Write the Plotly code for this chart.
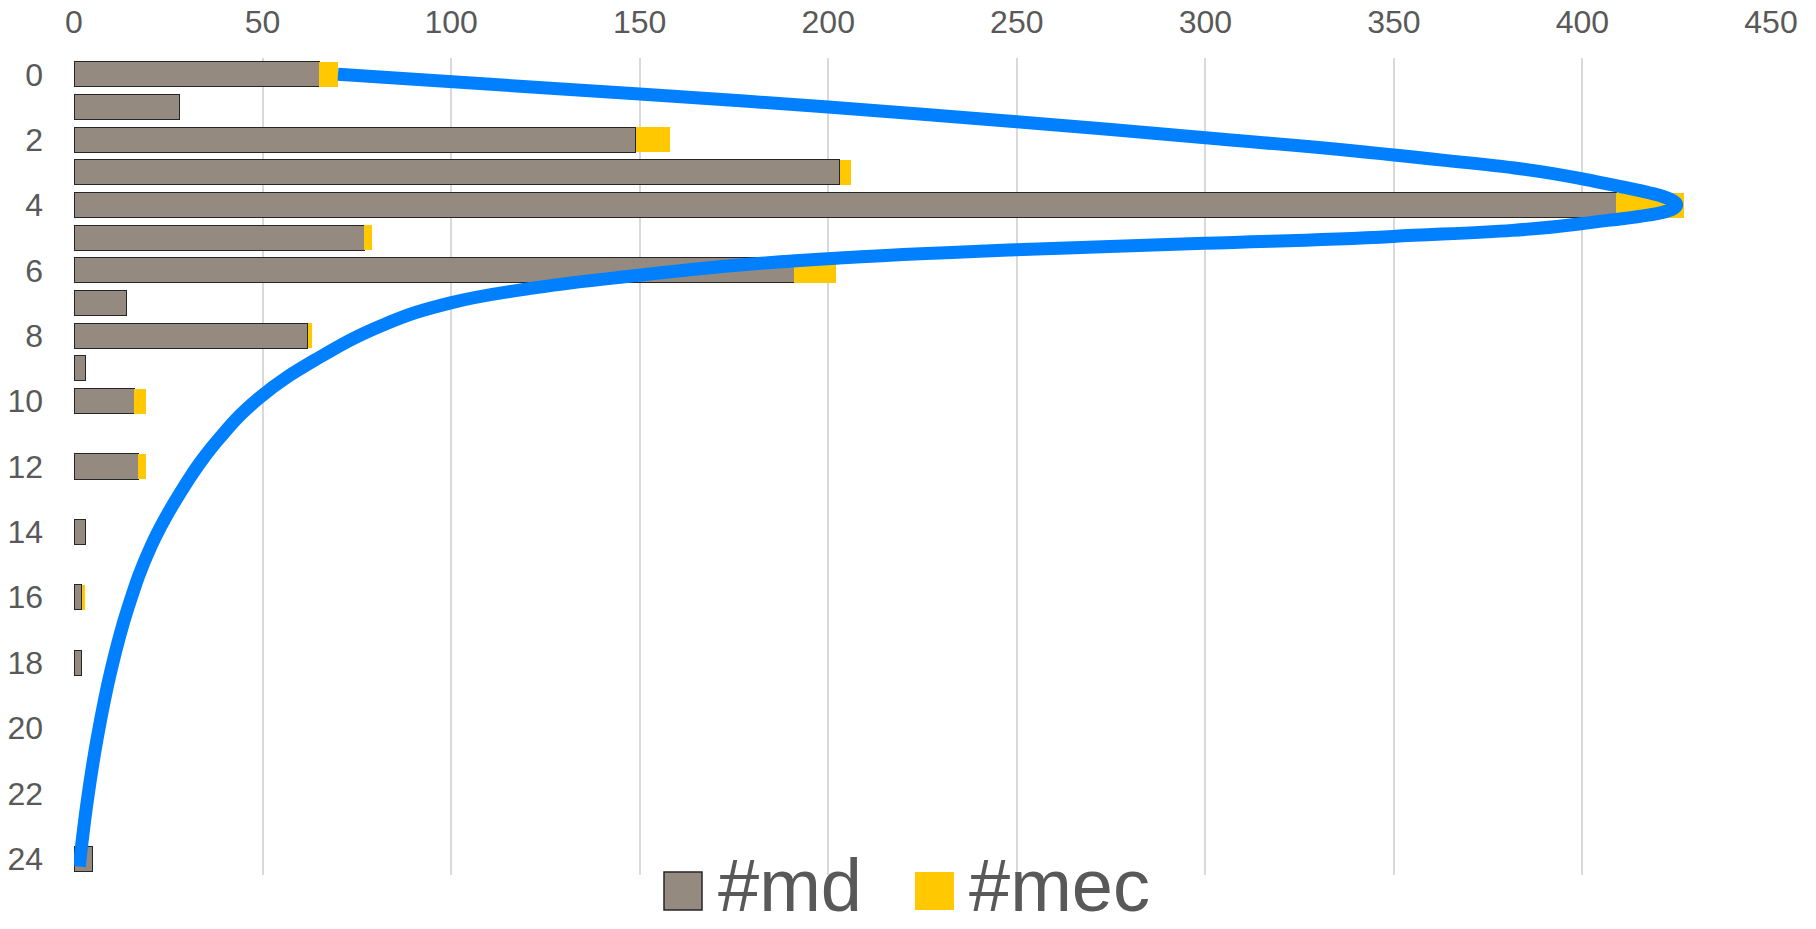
import plotly.graph_objects as go

# ---- data ----
categories = list(range(25))
md = [65, 28, 149, 203, 409, 77, 191, 14, 62, 3, 16, 0, 17, 0, 3, 0, 2, 0, 2, 0, 0, 0, 0, 0, 5]
mec = [5, 0, 9, 3, 18, 2, 11, 0, 1, 0, 3, 0, 2, 0, 0, 0, 1, 0, 0, 0, 0, 0, 0, 0, 0]

curve_x = [70, 150, 200, 250, 300, 350, 400, 425,
           399.6, 349.7, 299.7, 249.6, 199.8, 175, 149.7, 123, 99.6, 82.1, 64.8,
           49, 37.5, 28.3, 20.5, 14.3, 9.8, 6.2, 3.4, 1.4]
curve_y = [0, 0.6, 1.0, 1.45, 1.94, 2.47, 3.2, 4.0,
           4.57, 4.96, 5.17, 5.37, 5.64, 5.85, 6.15, 6.52, 7.0, 7.66, 8.68,
           9.91, 11.28, 12.78, 14.42, 16.33, 18.24, 20.28, 22.33, 24.24]

x_ticks = [0, 50, 100, 150, 200, 250, 300, 350, 400, 450]
y_ticks = list(range(0, 25, 2))

MD_COLOR = "#948A80"
MEC_COLOR = "#FFC800"
LINE_COLOR = "#0080FF"
TEXT_COLOR = "#595959"
FONT = "Liberation Sans, Arial, sans-serif"

fig = go.Figure()
fig.add_trace(go.Bar(
    y=categories, x=md, orientation="h", name="#md", width=0.766,
    marker=dict(color=MD_COLOR,
                line=dict(color="#262626", width=[1 if v > 0 else 0 for v in md])),
    showlegend=False,
))
fig.add_trace(go.Bar(
    y=categories, x=mec, orientation="h", name="#mec", width=0.766,
    marker=dict(color=MEC_COLOR, line=dict(width=0)),
    showlegend=False,
))
fig.add_trace(go.Scatter(
    x=curve_x, y=curve_y, mode="lines",
    line=dict(color=LINE_COLOR, width=13, shape="spline", smoothing=1.2),
    showlegend=False, hoverinfo="skip",
))

L, R, T, B = 74, 45, 58, 54
W, H = 1816, 929
fig.update_layout(
    width=W, height=H,
    margin=dict(l=L, r=R, t=T, b=B, autoexpand=False),
    barmode="stack",
    plot_bgcolor="white", paper_bgcolor="white",
    font=dict(family=FONT, color=TEXT_COLOR, size=32),
    showlegend=False,
    xaxis=dict(
        side="top", range=[0, 450], tickvals=x_ticks, ticktext=[str(v) for v in x_ticks],
        showgrid=True, gridcolor="#D9D9D9", gridwidth=2, zeroline=False,
        showline=False, ticks="", tickfont=dict(size=32, color=TEXT_COLOR),
        ticklabelstandoff=18, automargin=False,
    ),
    yaxis=dict(
        range=[24.5, -0.5], tickvals=y_ticks, ticktext=[str(v) for v in y_ticks],
        showgrid=False, zeroline=False, showline=False, ticks="",
        tickfont=dict(size=32, color=TEXT_COLOR), ticklabelstandoff=30,
        automargin=False,
    ),
)

# manual legend (large swatches)
pw = W - L - R
ph = H - T - B
def px2x(px):
    return (px - L) / pw
def py2y(py):
    return (H - B - py) / ph

fig.add_shape(type="rect", xref="paper", yref="paper",
              x0=px2x(664), x1=px2x(702), y0=py2y(910), y1=py2y(872),
              fillcolor=MD_COLOR, line=dict(color="#262626", width=1.5))
fig.add_shape(type="rect", xref="paper", yref="paper",
              x0=px2x(915), x1=px2x(954), y0=py2y(910), y1=py2y(872),
              fillcolor=MEC_COLOR, line=dict(width=0))
fig.add_annotation(xref="paper", yref="paper", x=px2x(716), y=py2y(928.5),
                   text="#md", showarrow=False, xanchor="left", yanchor="bottom",
                   font=dict(size=74, color=TEXT_COLOR, family=FONT))
fig.add_annotation(xref="paper", yref="paper", x=px2x(967), y=py2y(928.5),
                   text="#mec", showarrow=False, xanchor="left", yanchor="bottom",
                   font=dict(size=74, color=TEXT_COLOR, family=FONT))

fig.write_html("out.html")
